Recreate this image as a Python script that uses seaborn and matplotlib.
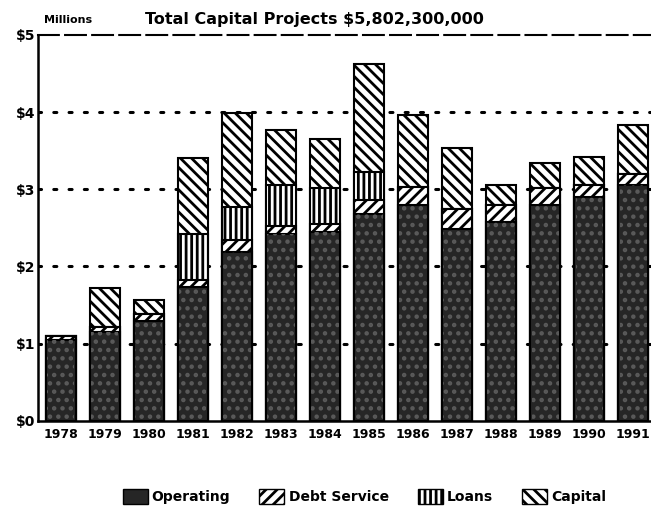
import numpy as np
import pandas as pd
import seaborn as sns
import matplotlib.pyplot as plt
from matplotlib.patches import Patch

# values in $ (axis label says Millions)
years = ['1978', '1979', '1980', '1981', '1982', '1983', '1984',
         '1985', '1986', '1987', '1988', '1989', '1990', '1991']
operating = [1.05, 1.15, 1.30, 1.73, 2.19, 2.42, 2.45,
             2.68, 2.79, 2.49, 2.58, 2.79, 2.90, 3.06]
debt_service = [0.05, 0.06, 0.09, 0.09, 0.15, 0.11, 0.10,
                0.18, 0.24, 0.26, 0.21, 0.22, 0.15, 0.14]
loans = [0.00, 0.00, 0.00, 0.60, 0.43, 0.52, 0.46,
         0.36, 0.00, 0.00, 0.00, 0.00, 0.00, 0.00]
capital = [0.00, 0.51, 0.18, 0.98, 1.22, 0.72, 0.64,
           1.40, 0.93, 0.79, 0.27, 0.33, 0.37, 0.63]
ytick_vals = [0, 1, 2, 3, 4, 5]
ytick_labels = ['$0', '$1', '$2', '$3', '$4', '$5']

sns.set_theme(style='white')
plt.rcParams['font.family'] = ['DejaVu Sans']
plt.rcParams['font.weight'] = 'bold'
plt.rcParams['hatch.linewidth'] = 2.0
plt.rcParams['text.color'] = 'black'
plt.rcParams['xtick.color'] = 'black'
plt.rcParams['ytick.color'] = 'black'

df = pd.DataFrame({'year': years, 'Operating': operating,
                   'Debt Service': debt_service, 'Loans': loans,
                   'Capital': capital})
df['lvl_debt'] = df['Operating'] + df['Debt Service']
df['lvl_loans'] = df['lvl_debt'] + df['Loans']
df['lvl_capital'] = df['lvl_loans'] + df['Capital']

fig = plt.figure(figsize=(6.51, 5.19), dpi=100)
ax = fig.add_axes([0.058, 0.189, 0.95, 0.744])

# stacked bars by overdrawing cumulative totals, tallest first
layers = [('lvl_capital', 'white', '\\\\\\'),
          ('lvl_loans', 'white', '|||'),
          ('lvl_debt', 'white', '///'),
          ('Operating', '#262626', '')]
for col, fc, h in layers:
    sns.barplot(data=df, x='year', y=col, color=fc, saturation=1,
                width=0.68, errorbar=None, ax=ax, edgecolor='black',
                linewidth=1.5, hatch=h, zorder=3)
# speckle on the operating part, like the print
sns.barplot(data=df, x='year', y='Operating', color='none', saturation=1,
            width=0.62, errorbar=None, ax=ax, edgecolor='#5a5a5a',
            linewidth=0, hatch='..', zorder=4)

for v in [1, 2, 3, 4]:
    ax.axhline(v, color='black', linewidth=2.2, linestyle=(0, (1, 4)),
               dash_capstyle='round', zorder=1)

ax.set_ylim(0, 5)
ax.set_xlim(-0.52, 13.52)
ax.set_yticks(ytick_vals)
ax.set_yticklabels(ytick_labels, fontsize=10, fontweight='bold')
ax.tick_params(axis='x', length=0, pad=5, labelsize=9)
ax.tick_params(axis='y', length=0, pad=2)
for lab in ax.get_xticklabels():
    lab.set_fontweight('bold')
ax.set_xlabel('')
ax.set_ylabel('')

for s in ['left', 'bottom']:
    ax.spines[s].set_color('black')
    ax.spines[s].set_linewidth(1.8)
ax.spines['right'].set_visible(False)
ax.spines['top'].set_color('black')
ax.spines['top'].set_linewidth(1.5)
ax.spines['top'].set_linestyle((0, (10, 3)))

fig.text(0.067, 0.962, 'Millions', fontsize=8, fontweight='bold',
         ha='left', va='center')
fig.text(0.222, 0.962, 'Total Capital Projects $5,802,300,000', fontsize=11.5,
         fontweight='bold', ha='left', va='center')

handles = [Patch(facecolor='#262626', edgecolor='black', label='Operating'),
           Patch(facecolor='white', edgecolor='black', hatch='///', label='Debt Service'),
           Patch(facecolor='white', edgecolor='black', hatch='|||', label='Loans'),
           Patch(facecolor='white', edgecolor='black', hatch='\\\\\\', label='Capital')]
fig.legend(handles=handles, loc='center', bbox_to_anchor=(0.56, 0.043),
           ncol=4, frameon=False, handlelength=1.8,
           handleheight=1.2, handletextpad=0.3, columnspacing=2.1,
           prop={'weight': 'bold', 'size': 10})

fig.savefig('out.png', dpi=100)
